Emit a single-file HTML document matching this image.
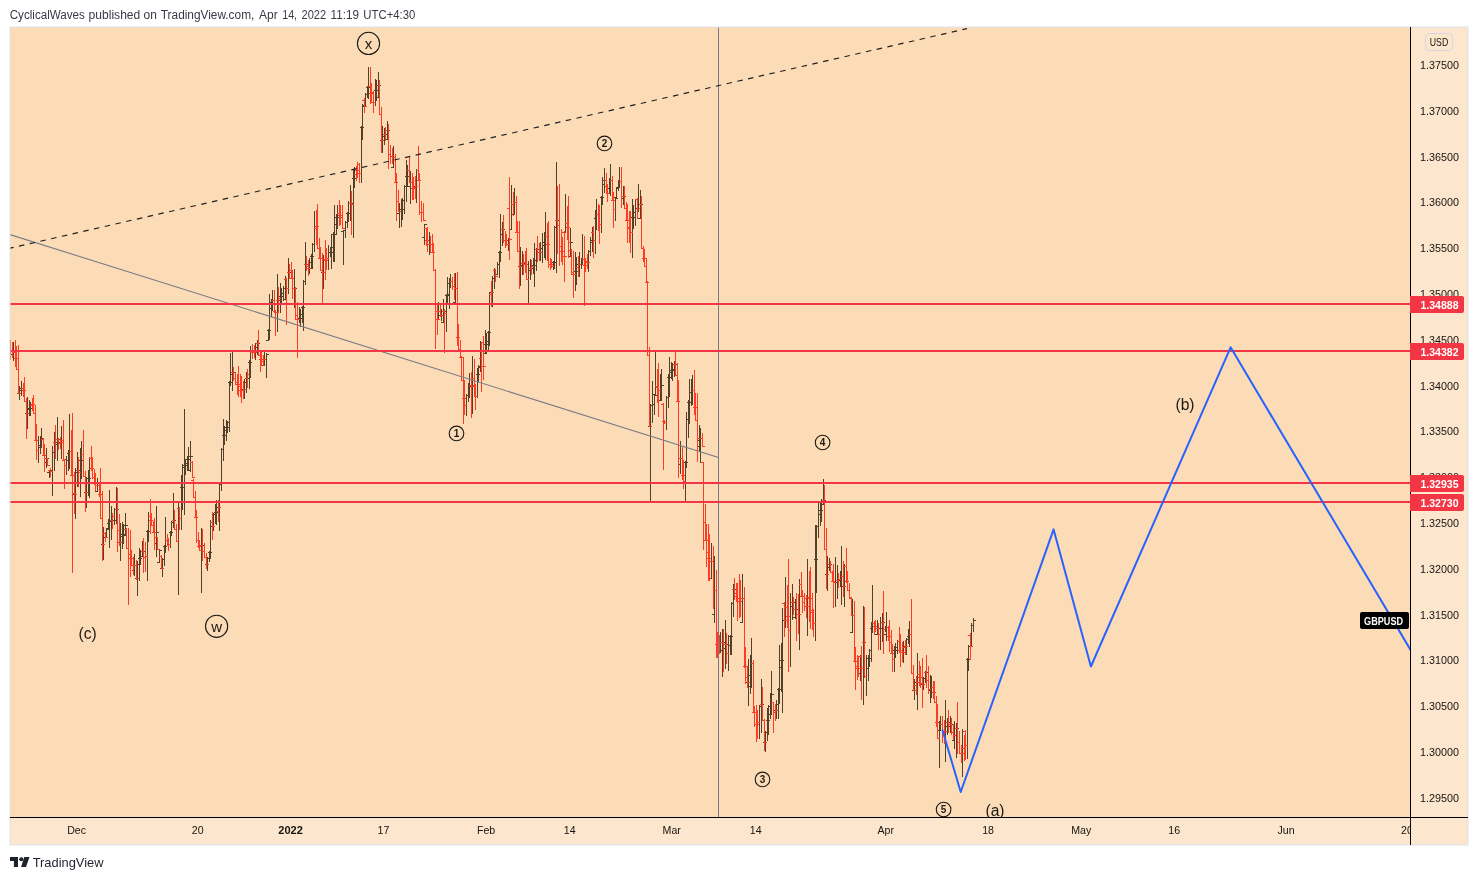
<!DOCTYPE html>
<html lang="en"><head><meta charset="utf-8"><title>GBPUSD chart by CyclicalWaves - TradingView</title>
<style>
html,body{margin:0;padding:0;background:#fff;}
body{width:1478px;height:880px;position:relative;overflow:hidden;font-family:"Liberation Sans",sans-serif;}
svg text{font-family:"Liberation Sans",sans-serif;}
</style></head><body>
<svg width="1478" height="880" viewBox="0 0 1478 880" style="position:absolute;left:0;top:0">
<rect x="0" y="0" width="1478" height="880" fill="#fff"/>
<rect x="10" y="27" width="1458" height="818" fill="#FDE6CE"/>
<rect x="10" y="27" width="1400" height="790" fill="#FCDCB6"/>
<defs><clipPath id="cp"><rect x="10" y="27" width="1400" height="790"/></clipPath></defs>
<g clip-path="url(#cp)">
<g shape-rendering="crispEdges">
<path fill="#524128" d="M13 342h1v19h-1zM11 354h2v1h-2zM14 352h2v1h-2zM19 386h1v14h-1zM17 393h2v1h-2zM20 388h2v1h-2zM21 381h1v15h-1zM19 390h2v1h-2zM22 388h2v1h-2zM27 397h1v32h-1zM25 413h2v1h-2zM28 408h2v1h-2zM29 400h1v16h-1zM27 409h2v1h-2zM30 408h2v1h-2zM30 402h1v14h-1zM28 408h2v1h-2zM31 405h2v1h-2zM38 436h1v27h-1zM36 450h2v1h-2zM39 445h2v1h-2zM40 436h1v18h-1zM38 445h2v1h-2zM41 438h2v1h-2zM41 428h1v20h-1zM39 447h2v1h-2zM42 438h2v1h-2zM46 448h1v20h-1zM44 462h2v1h-2zM47 458h2v1h-2zM49 470h1v8h-1zM47 472h2v1h-2zM50 470h2v1h-2zM52 446h1v50h-1zM50 471h2v1h-2zM53 452h2v1h-2zM54 432h1v39h-1zM52 452h2v1h-2zM55 442h2v1h-2zM57 417h1v44h-1zM55 444h2v1h-2zM58 439h2v1h-2zM61 426h1v33h-1zM59 442h2v1h-2zM62 440h2v1h-2zM66 456h1v19h-1zM64 465h2v1h-2zM67 460h2v1h-2zM68 450h1v21h-1zM66 460h2v1h-2zM69 451h2v1h-2zM69 414h1v55h-1zM67 453h2v1h-2zM70 451h2v1h-2zM75 468h1v51h-1zM73 494h2v1h-2zM76 470h2v1h-2zM77 452h1v35h-1zM75 472h2v1h-2zM78 470h2v1h-2zM80 448h1v49h-1zM78 472h2v1h-2zM81 460h2v1h-2zM81 441h1v38h-1zM79 460h2v1h-2zM82 454h2v1h-2zM86 477h1v31h-1zM84 492h2v1h-2zM87 483h2v1h-2zM88 470h1v26h-1zM86 483h2v1h-2zM89 478h2v1h-2zM89 457h1v41h-1zM87 478h2v1h-2zM90 458h2v1h-2zM97 478h1v14h-1zM95 491h2v1h-2zM98 485h2v1h-2zM103 527h1v33h-1zM101 544h2v1h-2zM104 537h2v1h-2zM106 528h1v10h-1zM104 537h2v1h-2zM107 529h2v1h-2zM108 519h1v10h-1zM106 528h2v1h-2zM109 520h2v1h-2zM109 490h1v58h-1zM107 523h2v1h-2zM110 520h2v1h-2zM111 506h1v34h-1zM109 521h2v1h-2zM112 520h2v1h-2zM114 508h1v17h-1zM112 516h2v1h-2zM115 509h2v1h-2zM116 487h1v37h-1zM114 520h2v1h-2zM117 509h2v1h-2zM120 523h1v38h-1zM118 542h2v1h-2zM121 536h2v1h-2zM122 522h1v27h-1zM120 536h2v1h-2zM123 534h2v1h-2zM123 524h1v20h-1zM121 534h2v1h-2zM124 525h2v1h-2zM125 513h1v23h-1zM123 535h2v1h-2zM126 525h2v1h-2zM134 554h1v22h-1zM132 570h2v1h-2zM135 565h2v1h-2zM137 561h1v35h-1zM135 578h2v1h-2zM138 564h2v1h-2zM139 548h1v33h-1zM137 564h2v1h-2zM140 558h2v1h-2zM140 550h1v15h-1zM138 558h2v1h-2zM141 551h2v1h-2zM142 541h1v16h-1zM140 556h2v1h-2zM143 551h2v1h-2zM147 530h1v51h-1zM145 556h2v1h-2zM148 531h2v1h-2zM148 512h1v30h-1zM146 531h2v1h-2zM149 516h2v1h-2zM156 506h1v51h-1zM154 543h2v1h-2zM157 532h2v1h-2zM159 549h1v14h-1zM157 562h2v1h-2zM160 550h2v1h-2zM162 558h1v19h-1zM160 568h2v1h-2zM163 559h2v1h-2zM164 545h1v21h-1zM162 559h2v1h-2zM165 546h2v1h-2zM165 517h1v36h-1zM163 546h2v1h-2zM166 540h2v1h-2zM170 531h1v17h-1zM168 544h2v1h-2zM171 532h2v1h-2zM171 521h1v15h-1zM169 532h2v1h-2zM172 522h2v1h-2zM173 493h1v35h-1zM171 522h2v1h-2zM174 520h2v1h-2zM178 503h1v92h-1zM176 541h2v1h-2zM179 518h2v1h-2zM181 475h1v55h-1zM179 518h2v1h-2zM182 487h2v1h-2zM182 464h1v46h-1zM180 487h2v1h-2zM183 465h2v1h-2zM184 409h1v106h-1zM182 467h2v1h-2zM185 465h2v1h-2zM185 459h1v16h-1zM183 465h2v1h-2zM186 463h2v1h-2zM187 456h1v15h-1zM185 463h2v1h-2zM188 459h2v1h-2zM188 447h1v24h-1zM186 459h2v1h-2zM189 456h2v1h-2zM190 441h1v31h-1zM188 470h2v1h-2zM191 456h2v1h-2zM201 528h1v65h-1zM199 550h2v1h-2zM202 545h2v1h-2zM207 557h1v14h-1zM205 564h2v1h-2zM208 558h2v1h-2zM209 551h1v11h-1zM207 558h2v1h-2zM210 552h2v1h-2zM210 520h1v39h-1zM208 552h2v1h-2zM211 526h2v1h-2zM213 513h1v18h-1zM211 526h2v1h-2zM214 514h2v1h-2zM215 504h1v20h-1zM213 514h2v1h-2zM216 512h2v1h-2zM216 500h1v25h-1zM214 512h2v1h-2zM217 511h2v1h-2zM219 483h1v48h-1zM217 507h2v1h-2zM220 484h2v1h-2zM221 448h1v43h-1zM219 484h2v1h-2zM222 449h2v1h-2zM223 419h1v42h-1zM221 449h2v1h-2zM224 435h2v1h-2zM224 426h1v19h-1zM222 435h2v1h-2zM225 430h2v1h-2zM226 420h1v21h-1zM224 430h2v1h-2zM227 427h2v1h-2zM227 421h1v12h-1zM225 427h2v1h-2zM228 422h2v1h-2zM229 381h1v51h-1zM227 422h2v1h-2zM230 382h2v1h-2zM230 353h1v33h-1zM228 382h2v1h-2zM231 372h2v1h-2zM232 352h1v39h-1zM230 374h2v1h-2zM233 372h2v1h-2zM244 379h1v20h-1zM242 389h2v1h-2zM245 382h2v1h-2zM246 372h1v21h-1zM244 382h2v1h-2zM247 378h2v1h-2zM249 360h1v29h-1zM247 374h2v1h-2zM250 362h2v1h-2zM250 346h1v32h-1zM248 362h2v1h-2zM251 352h2v1h-2zM255 343h1v17h-1zM253 352h2v1h-2zM256 347h2v1h-2zM257 340h1v15h-1zM255 347h2v1h-2zM258 343h2v1h-2zM264 352h1v14h-1zM262 365h2v1h-2zM265 359h2v1h-2zM266 353h1v25h-1zM264 359h2v1h-2zM267 354h2v1h-2zM268 329h1v12h-1zM266 340h2v1h-2zM269 330h2v1h-2zM269 294h1v46h-1zM267 330h2v1h-2zM270 308h2v1h-2zM271 299h1v18h-1zM269 308h2v1h-2zM272 300h2v1h-2zM272 290h1v21h-1zM270 302h2v1h-2zM273 300h2v1h-2zM277 274h1v58h-1zM275 312h2v1h-2zM278 300h2v1h-2zM280 283h1v30h-1zM278 298h2v1h-2zM281 296h2v1h-2zM281 288h1v16h-1zM279 296h2v1h-2zM282 293h2v1h-2zM283 286h1v15h-1zM281 293h2v1h-2zM284 288h2v1h-2zM285 276h1v24h-1zM283 299h2v1h-2zM286 288h2v1h-2zM288 258h1v36h-1zM286 288h2v1h-2zM289 272h2v1h-2zM294 269h1v39h-1zM292 304h2v1h-2zM295 288h2v1h-2zM299 307h1v16h-1zM297 319h2v1h-2zM300 318h2v1h-2zM300 309h1v18h-1zM298 318h2v1h-2zM301 314h2v1h-2zM302 306h1v17h-1zM300 314h2v1h-2zM303 307h2v1h-2zM303 280h1v51h-1zM301 307h2v1h-2zM304 281h2v1h-2zM305 242h1v43h-1zM303 281h2v1h-2zM306 264h2v1h-2zM309 258h1v16h-1zM307 268h2v1h-2zM310 262h2v1h-2zM311 254h1v15h-1zM309 262h2v1h-2zM312 256h2v1h-2zM312 243h1v26h-1zM310 256h2v1h-2zM313 244h2v1h-2zM314 211h1v41h-1zM312 244h2v1h-2zM315 228h2v1h-2zM323 255h1v34h-1zM321 272h2v1h-2zM324 260h2v1h-2zM328 245h1v25h-1zM326 258h2v1h-2zM329 252h2v1h-2zM330 247h1v10h-1zM328 252h2v1h-2zM331 252h2v1h-2zM331 234h1v35h-1zM329 252h2v1h-2zM332 247h2v1h-2zM333 232h1v30h-1zM331 247h2v1h-2zM334 234h2v1h-2zM334 205h1v57h-1zM332 234h2v1h-2zM335 224h2v1h-2zM336 214h1v21h-1zM334 224h2v1h-2zM337 217h2v1h-2zM337 205h1v24h-1zM335 217h2v1h-2zM338 213h2v1h-2zM343 230h1v35h-1zM341 231h2v1h-2zM344 230h2v1h-2zM345 221h1v17h-1zM343 230h2v1h-2zM346 222h2v1h-2zM347 212h1v16h-1zM345 222h2v1h-2zM348 213h2v1h-2zM348 201h1v21h-1zM346 213h2v1h-2zM349 203h2v1h-2zM350 185h1v36h-1zM348 213h2v1h-2zM351 203h2v1h-2zM353 169h1v69h-1zM351 204h2v1h-2zM354 178h2v1h-2zM354 167h1v21h-1zM352 178h2v1h-2zM355 174h2v1h-2zM361 126h1v57h-1zM359 173h2v1h-2zM362 127h2v1h-2zM362 104h1v36h-1zM360 127h2v1h-2zM363 106h2v1h-2zM365 93h1v13h-1zM363 105h2v1h-2zM366 94h2v1h-2zM367 86h1v12h-1zM365 94h2v1h-2zM368 87h2v1h-2zM368 67h1v32h-1zM366 87h2v1h-2zM369 86h2v1h-2zM375 79h1v27h-1zM373 102h2v1h-2zM376 90h2v1h-2zM376 80h1v21h-1zM374 90h2v1h-2zM377 85h2v1h-2zM378 72h1v26h-1zM376 97h2v1h-2zM379 85h2v1h-2zM382 126h1v27h-1zM380 140h2v1h-2zM383 136h2v1h-2zM384 128h1v17h-1zM382 136h2v1h-2zM385 134h2v1h-2zM387 121h1v19h-1zM385 139h2v1h-2zM388 130h2v1h-2zM393 146h1v22h-1zM391 167h2v1h-2zM394 157h2v1h-2zM399 203h1v25h-1zM397 213h2v1h-2zM400 211h2v1h-2zM401 199h1v28h-1zM399 211h2v1h-2zM402 209h2v1h-2zM402 198h1v22h-1zM400 209h2v1h-2zM403 200h2v1h-2zM404 185h1v29h-1zM402 200h2v1h-2zM405 186h2v1h-2zM406 160h1v42h-1zM404 186h2v1h-2zM407 176h2v1h-2zM407 165h1v22h-1zM405 176h2v1h-2zM408 170h2v1h-2zM410 171h1v33h-1zM408 186h2v1h-2zM411 182h2v1h-2zM416 169h1v34h-1zM414 186h2v1h-2zM417 170h2v1h-2zM424 224h1v21h-1zM422 237h2v1h-2zM425 224h2v1h-2zM429 232h1v23h-1zM427 244h2v1h-2zM430 244h2v1h-2zM438 302h1v18h-1zM436 319h2v1h-2zM439 311h2v1h-2zM441 309h1v12h-1zM439 315h2v1h-2zM442 311h2v1h-2zM443 299h1v24h-1zM441 322h2v1h-2zM444 311h2v1h-2zM446 294h1v38h-1zM444 313h2v1h-2zM447 295h2v1h-2zM447 277h1v27h-1zM445 295h2v1h-2zM448 294h2v1h-2zM449 278h1v31h-1zM447 294h2v1h-2zM450 281h2v1h-2zM450 274h1v14h-1zM448 283h2v1h-2zM451 281h2v1h-2zM455 273h1v30h-1zM453 302h2v1h-2zM456 288h2v1h-2zM466 394h1v22h-1zM464 405h2v1h-2zM467 395h2v1h-2zM468 383h1v19h-1zM466 395h2v1h-2zM469 386h2v1h-2zM469 373h1v25h-1zM467 395h2v1h-2zM470 386h2v1h-2zM472 356h1v58h-1zM470 386h2v1h-2zM473 378h2v1h-2zM477 368h1v30h-1zM475 396h2v1h-2zM478 374h2v1h-2zM478 365h1v17h-1zM476 374h2v1h-2zM479 366h2v1h-2zM480 341h1v31h-1zM478 367h2v1h-2zM481 366h2v1h-2zM485 330h1v24h-1zM483 353h2v1h-2zM486 344h2v1h-2zM486 333h1v21h-1zM484 344h2v1h-2zM487 341h2v1h-2zM488 331h1v20h-1zM486 341h2v1h-2zM489 332h2v1h-2zM489 292h1v54h-1zM487 332h2v1h-2zM490 294h2v1h-2zM492 276h1v31h-1zM490 292h2v1h-2zM493 278h2v1h-2zM494 268h1v21h-1zM492 278h2v1h-2zM495 276h2v1h-2zM497 262h1v13h-1zM495 274h2v1h-2zM498 264h2v1h-2zM499 251h1v27h-1zM497 264h2v1h-2zM500 252h2v1h-2zM500 214h1v48h-1zM498 252h2v1h-2zM501 234h2v1h-2zM502 222h1v24h-1zM500 234h2v1h-2zM503 229h2v1h-2zM508 238h1v13h-1zM506 244h2v1h-2zM509 239h2v1h-2zM511 185h1v45h-1zM509 229h2v1h-2zM512 204h2v1h-2zM514 188h1v27h-1zM512 214h2v1h-2zM515 202h2v1h-2zM520 247h1v39h-1zM518 266h2v1h-2zM521 263h2v1h-2zM522 251h1v24h-1zM520 265h2v1h-2zM523 263h2v1h-2zM528 261h1v42h-1zM526 279h2v1h-2zM529 270h2v1h-2zM530 259h1v21h-1zM528 270h2v1h-2zM531 268h2v1h-2zM533 258h1v16h-1zM531 266h2v1h-2zM534 265h2v1h-2zM534 243h1v44h-1zM532 265h2v1h-2zM535 260h2v1h-2zM536 248h1v23h-1zM534 260h2v1h-2zM537 249h2v1h-2zM540 242h1v19h-1zM538 252h2v1h-2zM541 248h2v1h-2zM542 233h1v30h-1zM540 248h2v1h-2zM543 245h2v1h-2zM544 232h1v26h-1zM542 245h2v1h-2zM545 236h2v1h-2zM545 212h1v48h-1zM543 242h2v1h-2zM546 236h2v1h-2zM553 261h1v9h-1zM551 266h2v1h-2zM554 262h2v1h-2zM554 226h1v43h-1zM552 262h2v1h-2zM555 227h2v1h-2zM556 162h1v111h-1zM554 227h2v1h-2zM557 220h2v1h-2zM565 194h1v39h-1zM563 232h2v1h-2zM566 223h2v1h-2zM570 228h1v29h-1zM568 256h2v1h-2zM571 242h2v1h-2zM575 252h1v39h-1zM573 274h2v1h-2zM576 271h2v1h-2zM576 257h1v28h-1zM574 271h2v1h-2zM577 267h2v1h-2zM579 252h1v25h-1zM577 264h2v1h-2zM580 264h2v1h-2zM581 258h1v11h-1zM579 264h2v1h-2zM582 259h2v1h-2zM582 234h1v31h-1zM580 264h2v1h-2zM583 259h2v1h-2zM588 250h1v22h-1zM586 262h2v1h-2zM589 251h2v1h-2zM590 237h1v19h-1zM588 251h2v1h-2zM591 240h2v1h-2zM592 227h1v25h-1zM590 242h2v1h-2zM593 240h2v1h-2zM595 210h1v44h-1zM593 240h2v1h-2zM596 214h2v1h-2zM596 199h1v31h-1zM594 218h2v1h-2zM597 214h2v1h-2zM601 196h1v37h-1zM599 224h2v1h-2zM602 197h2v1h-2zM602 177h1v28h-1zM600 197h2v1h-2zM603 180h2v1h-2zM604 168h1v25h-1zM602 184h2v1h-2zM605 180h2v1h-2zM609 178h1v16h-1zM607 193h2v1h-2zM610 180h2v1h-2zM610 164h1v32h-1zM608 188h2v1h-2zM611 180h2v1h-2zM615 197h1v24h-1zM613 209h2v1h-2zM616 198h2v1h-2zM616 187h1v11h-1zM614 197h2v1h-2zM617 188h2v1h-2zM618 180h1v11h-1zM616 188h2v1h-2zM619 181h2v1h-2zM619 167h1v21h-1zM617 187h2v1h-2zM620 181h2v1h-2zM623 186h1v19h-1zM621 198h2v1h-2zM624 196h2v1h-2zM632 199h1v59h-1zM630 232h2v1h-2zM633 217h2v1h-2zM633 205h1v24h-1zM631 217h2v1h-2zM634 212h2v1h-2zM635 199h1v27h-1zM633 212h2v1h-2zM636 208h2v1h-2zM638 184h1v28h-1zM636 208h2v1h-2zM639 204h2v1h-2zM640 190h1v29h-1zM638 218h2v1h-2zM641 204h2v1h-2zM650 404h1v97h-1zM648 426h2v1h-2zM651 405h2v1h-2zM652 381h1v42h-1zM650 405h2v1h-2zM653 404h2v1h-2zM654 394h1v21h-1zM652 404h2v1h-2zM655 395h2v1h-2zM655 351h1v44h-1zM653 394h2v1h-2zM656 386h2v1h-2zM660 374h1v27h-1zM658 390h2v1h-2zM661 385h2v1h-2zM661 369h1v32h-1zM659 400h2v1h-2zM662 385h2v1h-2zM666 396h1v34h-1zM664 422h2v1h-2zM667 397h2v1h-2zM668 374h1v34h-1zM666 397h2v1h-2zM669 377h2v1h-2zM669 357h1v40h-1zM667 377h2v1h-2zM670 370h2v1h-2zM671 362h1v17h-1zM669 372h2v1h-2zM672 370h2v1h-2zM672 363h1v18h-1zM670 370h2v1h-2zM673 369h2v1h-2zM674 361h1v16h-1zM672 369h2v1h-2zM675 364h2v1h-2zM680 441h1v33h-1zM678 464h2v1h-2zM681 458h2v1h-2zM685 461h1v40h-1zM683 481h2v1h-2zM686 462h2v1h-2zM686 412h1v56h-1zM684 462h2v1h-2zM687 419h2v1h-2zM688 400h1v38h-1zM686 419h2v1h-2zM689 402h2v1h-2zM689 379h1v45h-1zM687 402h2v1h-2zM690 392h2v1h-2zM691 379h1v27h-1zM689 392h2v1h-2zM692 390h2v1h-2zM692 375h1v30h-1zM690 392h2v1h-2zM693 390h2v1h-2zM699 425h1v27h-1zM697 446h2v1h-2zM700 438h2v1h-2zM700 428h1v35h-1zM698 440h2v1h-2zM701 438h2v1h-2zM711 543h1v36h-1zM709 578h2v1h-2zM712 561h2v1h-2zM714 556h1v67h-1zM712 614h2v1h-2zM715 590h2v1h-2zM720 632h1v21h-1zM718 652h2v1h-2zM721 642h2v1h-2zM722 629h1v48h-1zM720 650h2v1h-2zM723 642h2v1h-2zM725 620h1v49h-1zM723 648h2v1h-2zM726 644h2v1h-2zM728 635h1v36h-1zM726 653h2v1h-2zM729 645h2v1h-2zM730 635h1v20h-1zM728 645h2v1h-2zM731 636h2v1h-2zM731 602h1v53h-1zM729 636h2v1h-2zM732 603h2v1h-2zM733 584h1v33h-1zM731 603h2v1h-2zM734 589h2v1h-2zM742 574h1v49h-1zM740 622h2v1h-2zM743 598h2v1h-2zM748 659h1v47h-1zM746 682h2v1h-2zM749 675h2v1h-2zM750 655h1v39h-1zM748 675h2v1h-2zM751 663h2v1h-2zM751 638h1v50h-1zM749 686h2v1h-2zM752 663h2v1h-2zM759 705h1v34h-1zM757 722h2v1h-2zM760 706h2v1h-2zM761 679h1v54h-1zM759 706h2v1h-2zM762 704h2v1h-2zM765 731h1v21h-1zM763 742h2v1h-2zM766 732h2v1h-2zM767 708h1v33h-1zM765 732h2v1h-2zM768 720h2v1h-2zM768 705h1v30h-1zM766 720h2v1h-2zM769 706h2v1h-2zM770 693h1v26h-1zM768 706h2v1h-2zM771 694h2v1h-2zM771 671h1v44h-1zM769 714h2v1h-2zM772 694h2v1h-2zM776 700h1v19h-1zM774 710h2v1h-2zM777 704h2v1h-2zM778 688h1v31h-1zM776 704h2v1h-2zM779 689h2v1h-2zM779 645h1v59h-1zM777 689h2v1h-2zM780 667h2v1h-2zM781 643h1v49h-1zM779 667h2v1h-2zM782 660h2v1h-2zM782 608h1v105h-1zM780 660h2v1h-2zM783 620h2v1h-2zM785 577h1v51h-1zM783 620h2v1h-2zM786 607h2v1h-2zM790 593h1v74h-1zM788 630h2v1h-2zM791 602h2v1h-2zM792 584h1v36h-1zM790 606h2v1h-2zM793 602h2v1h-2zM795 599h1v20h-1zM793 617h2v1h-2zM796 609h2v1h-2zM799 579h1v71h-1zM797 614h2v1h-2zM800 584h2v1h-2zM807 559h1v77h-1zM805 606h2v1h-2zM808 597h2v1h-2zM815 525h1v116h-1zM813 623h2v1h-2zM816 559h2v1h-2zM816 525h1v68h-1zM814 559h2v1h-2zM817 526h2v1h-2zM818 503h1v35h-1zM816 526h2v1h-2zM819 514h2v1h-2zM820 501h1v25h-1zM818 514h2v1h-2zM821 510h2v1h-2zM821 499h1v23h-1zM819 510h2v1h-2zM822 500h2v1h-2zM823 479h1v26h-1zM821 504h2v1h-2zM824 500h2v1h-2zM827 556h1v35h-1zM825 574h2v1h-2zM828 564h2v1h-2zM829 558h1v13h-1zM827 567h2v1h-2zM830 564h2v1h-2zM835 557h1v50h-1zM833 582h2v1h-2zM836 582h2v1h-2zM837 565h1v34h-1zM835 582h2v1h-2zM838 580h2v1h-2zM840 571h1v16h-1zM838 579h2v1h-2zM841 576h2v1h-2zM841 546h1v59h-1zM839 579h2v1h-2zM842 576h2v1h-2zM844 564h1v43h-1zM842 586h2v1h-2zM845 566h2v1h-2zM852 599h1v34h-1zM850 632h2v1h-2zM853 615h2v1h-2zM860 655h1v26h-1zM858 673h2v1h-2zM861 668h2v1h-2zM863 606h1v99h-1zM861 668h2v1h-2zM864 642h2v1h-2zM866 655h1v41h-1zM864 676h2v1h-2zM867 668h2v1h-2zM868 655h1v26h-1zM866 668h2v1h-2zM869 658h2v1h-2zM869 649h1v18h-1zM867 658h2v1h-2zM870 650h2v1h-2zM871 622h1v40h-1zM869 650h2v1h-2zM872 623h2v1h-2zM872 585h1v48h-1zM870 628h2v1h-2zM873 623h2v1h-2zM877 620h1v15h-1zM875 634h2v1h-2zM878 628h2v1h-2zM880 617h1v33h-1zM878 634h2v1h-2zM881 628h2v1h-2zM882 613h1v29h-1zM880 628h2v1h-2zM883 622h2v1h-2zM885 626h1v6h-1zM883 629h2v1h-2zM886 627h2v1h-2zM886 612h1v29h-1zM884 634h2v1h-2zM887 627h2v1h-2zM894 646h1v26h-1zM892 659h2v1h-2zM895 650h2v1h-2zM895 643h1v15h-1zM893 650h2v1h-2zM896 647h2v1h-2zM897 640h1v14h-1zM895 647h2v1h-2zM898 641h2v1h-2zM903 641h1v22h-1zM901 652h2v1h-2zM904 647h2v1h-2zM906 638h1v17h-1zM904 646h2v1h-2zM907 639h2v1h-2zM908 629h1v15h-1zM906 639h2v1h-2zM909 634h2v1h-2zM909 621h1v26h-1zM907 636h2v1h-2zM910 634h2v1h-2zM914 679h1v21h-1zM912 690h2v1h-2zM915 685h2v1h-2zM917 653h1v57h-1zM915 682h2v1h-2zM918 674h2v1h-2zM923 677h1v13h-1zM921 684h2v1h-2zM924 678h2v1h-2zM925 671h1v12h-1zM923 678h2v1h-2zM926 672h2v1h-2zM930 675h1v28h-1zM928 689h2v1h-2zM931 687h2v1h-2zM931 676h1v22h-1zM929 690h2v1h-2zM932 687h2v1h-2zM939 721h1v47h-1zM937 738h2v1h-2zM940 724h2v1h-2zM940 716h1v15h-1zM938 730h2v1h-2zM941 724h2v1h-2zM945 700h1v62h-1zM943 731h2v1h-2zM946 726h2v1h-2zM947 718h1v17h-1zM945 726h2v1h-2zM948 722h2v1h-2zM950 716h1v17h-1zM948 726h2v1h-2zM951 724h2v1h-2zM954 721h1v28h-1zM952 740h2v1h-2zM955 735h2v1h-2zM956 723h1v35h-1zM954 735h2v1h-2zM957 728h2v1h-2zM962 729h1v48h-1zM960 753h2v1h-2zM963 748h2v1h-2zM967 658h1v101h-1zM965 745h2v1h-2zM968 659h2v1h-2zM968 645h1v26h-1zM966 659h2v1h-2zM969 646h2v1h-2zM971 623h1v24h-1zM969 646h2v1h-2zM972 625h2v1h-2zM973 618h1v14h-1zM971 625h2v1h-2zM974 620h2v1h-2z"/>
<path fill="#FF3B24" d="M10 340h1v20h-1zM8 345h2v1h-2zM11 350h2v1h-2zM12 342h1v16h-1zM10 350h2v1h-2zM13 352h2v1h-2zM15 340h1v27h-1zM13 352h2v1h-2zM16 358h2v1h-2zM16 346h1v24h-1zM14 358h2v1h-2zM17 369h2v1h-2zM18 345h1v49h-1zM16 369h2v1h-2zM19 393h2v1h-2zM23 383h1v14h-1zM21 388h2v1h-2zM24 390h2v1h-2zM24 377h1v25h-1zM22 390h2v1h-2zM25 401h2v1h-2zM26 398h1v41h-1zM24 401h2v1h-2zM27 413h2v1h-2zM32 398h1v13h-1zM30 405h2v1h-2zM33 404h2v1h-2zM33 395h1v19h-1zM31 404h2v1h-2zM34 413h2v1h-2zM35 405h1v36h-1zM33 413h2v1h-2zM36 440h2v1h-2zM36 424h1v36h-1zM34 440h2v1h-2zM37 450h2v1h-2zM43 438h1v18h-1zM41 439h2v1h-2zM44 455h2v1h-2zM44 444h1v28h-1zM42 455h2v1h-2zM45 458h2v1h-2zM47 458h1v8h-1zM45 458h2v1h-2zM48 465h2v1h-2zM50 468h1v9h-1zM48 470h2v1h-2zM51 471h2v1h-2zM55 425h1v34h-1zM53 442h2v1h-2zM56 439h2v1h-2zM58 438h1v12h-1zM56 439h2v1h-2zM59 443h2v1h-2zM60 437h1v12h-1zM58 443h2v1h-2zM61 442h2v1h-2zM63 420h1v40h-1zM61 440h2v1h-2zM64 459h2v1h-2zM64 459h1v30h-1zM62 460h2v1h-2zM65 465h2v1h-2zM71 430h1v46h-1zM69 451h2v1h-2zM72 475h2v1h-2zM72 413h1v160h-1zM70 475h2v1h-2zM73 493h2v1h-2zM74 472h1v42h-1zM72 493h2v1h-2zM75 494h2v1h-2zM78 457h1v30h-1zM76 470h2v1h-2zM79 472h2v1h-2zM83 430h1v47h-1zM81 454h2v1h-2zM84 476h2v1h-2zM85 471h1v41h-1zM83 476h2v1h-2zM86 492h2v1h-2zM91 446h1v25h-1zM89 458h2v1h-2zM92 468h2v1h-2zM92 457h1v22h-1zM90 468h2v1h-2zM93 477h2v1h-2zM94 469h1v16h-1zM92 477h2v1h-2zM95 482h2v1h-2zM95 473h1v18h-1zM93 482h2v1h-2zM96 485h2v1h-2zM99 484h1v13h-1zM97 485h2v1h-2zM100 494h2v1h-2zM100 468h1v51h-1zM98 494h2v1h-2zM101 518h2v1h-2zM102 491h1v70h-1zM100 518h2v1h-2zM103 544h2v1h-2zM105 532h1v10h-1zM103 533h2v1h-2zM106 537h2v1h-2zM112 513h1v16h-1zM110 520h2v1h-2zM113 516h2v1h-2zM117 488h1v64h-1zM115 509h2v1h-2zM118 530h2v1h-2zM119 514h1v32h-1zM117 530h2v1h-2zM120 542h2v1h-2zM126 528h1v21h-1zM124 529h2v1h-2zM127 548h2v1h-2zM128 528h1v77h-1zM126 548h2v1h-2zM129 554h2v1h-2zM130 530h1v47h-1zM128 554h2v1h-2zM131 558h2v1h-2zM131 550h1v16h-1zM129 558h2v1h-2zM132 565h2v1h-2zM133 557h1v18h-1zM131 565h2v1h-2zM134 565h2v1h-2zM136 560h1v20h-1zM134 565h2v1h-2zM137 578h2v1h-2zM143 538h1v35h-1zM141 551h2v1h-2zM144 557h2v1h-2zM145 542h1v30h-1zM143 557h2v1h-2zM146 556h2v1h-2zM150 499h1v35h-1zM148 516h2v1h-2zM151 520h2v1h-2zM151 513h1v13h-1zM149 520h2v1h-2zM152 525h2v1h-2zM153 521h1v12h-1zM151 525h2v1h-2zM154 532h2v1h-2zM154 518h1v32h-1zM152 532h2v1h-2zM155 532h2v1h-2zM157 537h1v13h-1zM155 537h2v1h-2zM158 549h2v1h-2zM161 555h1v14h-1zM159 556h2v1h-2zM162 568h2v1h-2zM167 534h1v12h-1zM165 540h2v1h-2zM168 544h2v1h-2zM168 538h1v13h-1zM166 540h2v1h-2zM169 544h2v1h-2zM174 510h1v20h-1zM172 520h2v1h-2zM175 529h2v1h-2zM176 524h1v18h-1zM174 529h2v1h-2zM177 541h2v1h-2zM179 507h1v23h-1zM177 508h2v1h-2zM180 518h2v1h-2zM192 461h1v17h-1zM190 462h2v1h-2zM193 477h2v1h-2zM193 479h1v19h-1zM191 480h2v1h-2zM194 497h2v1h-2zM195 491h1v27h-1zM193 497h2v1h-2zM196 517h2v1h-2zM196 510h1v33h-1zM194 517h2v1h-2zM197 540h2v1h-2zM198 532h1v16h-1zM196 540h2v1h-2zM199 546h2v1h-2zM199 540h1v11h-1zM197 546h2v1h-2zM200 550h2v1h-2zM202 529h1v32h-1zM200 545h2v1h-2zM203 551h2v1h-2zM204 543h1v15h-1zM202 551h2v1h-2zM205 557h2v1h-2zM206 553h1v16h-1zM204 557h2v1h-2zM207 564h2v1h-2zM212 512h1v28h-1zM210 522h2v1h-2zM213 526h2v1h-2zM218 500h1v22h-1zM216 511h2v1h-2zM219 507h2v1h-2zM233 367h1v14h-1zM231 372h2v1h-2zM234 378h2v1h-2zM235 372h1v13h-1zM233 378h2v1h-2zM236 384h2v1h-2zM237 374h1v21h-1zM235 382h2v1h-2zM238 384h2v1h-2zM238 366h1v31h-1zM236 384h2v1h-2zM239 386h2v1h-2zM240 374h1v23h-1zM238 386h2v1h-2zM241 390h2v1h-2zM241 376h1v27h-1zM239 390h2v1h-2zM242 390h2v1h-2zM243 381h1v18h-1zM241 390h2v1h-2zM244 389h2v1h-2zM247 369h1v19h-1zM245 378h2v1h-2zM248 374h2v1h-2zM252 344h1v15h-1zM250 352h2v1h-2zM253 352h2v1h-2zM254 345h1v13h-1zM252 352h2v1h-2zM255 352h2v1h-2zM258 330h1v26h-1zM256 343h2v1h-2zM259 355h2v1h-2zM260 351h1v21h-1zM258 355h2v1h-2zM261 359h2v1h-2zM261 352h1v14h-1zM259 359h2v1h-2zM262 361h2v1h-2zM263 355h1v11h-1zM261 361h2v1h-2zM264 359h2v1h-2zM274 290h1v23h-1zM272 300h2v1h-2zM275 312h2v1h-2zM275 310h1v26h-1zM273 311h2v1h-2zM276 312h2v1h-2zM278 287h1v26h-1zM276 300h2v1h-2zM279 298h2v1h-2zM286 278h1v47h-1zM284 279h2v1h-2zM287 288h2v1h-2zM289 264h1v15h-1zM287 272h2v1h-2zM290 270h2v1h-2zM291 262h1v17h-1zM289 270h2v1h-2zM292 278h2v1h-2zM292 270h1v29h-1zM290 278h2v1h-2zM293 288h2v1h-2zM295 287h1v33h-1zM293 288h2v1h-2zM296 319h2v1h-2zM297 302h1v56h-1zM295 315h2v1h-2zM298 319h2v1h-2zM306 256h1v15h-1zM304 264h2v1h-2zM307 268h2v1h-2zM308 260h1v16h-1zM306 266h2v1h-2zM309 268h2v1h-2zM316 210h1v35h-1zM314 228h2v1h-2zM317 226h2v1h-2zM317 204h1v45h-1zM315 226h2v1h-2zM318 248h2v1h-2zM319 238h1v21h-1zM317 248h2v1h-2zM320 258h2v1h-2zM320 247h1v24h-1zM318 258h2v1h-2zM321 270h2v1h-2zM322 253h1v50h-1zM320 270h2v1h-2zM323 272h2v1h-2zM325 240h1v40h-1zM323 259h2v1h-2zM326 260h2v1h-2zM326 248h1v22h-1zM324 260h2v1h-2zM327 258h2v1h-2zM339 200h1v26h-1zM337 213h2v1h-2zM340 215h2v1h-2zM340 205h1v20h-1zM338 215h2v1h-2zM341 217h2v1h-2zM342 205h1v24h-1zM340 217h2v1h-2zM343 228h2v1h-2zM351 191h1v44h-1zM349 203h2v1h-2zM352 204h2v1h-2zM356 166h1v15h-1zM354 174h2v1h-2zM357 170h2v1h-2zM357 162h1v16h-1zM355 170h2v1h-2zM358 173h2v1h-2zM359 163h1v20h-1zM357 164h2v1h-2zM360 173h2v1h-2zM364 98h1v15h-1zM362 100h2v1h-2zM365 106h2v1h-2zM370 67h1v37h-1zM368 86h2v1h-2zM371 93h2v1h-2zM371 83h1v20h-1zM369 93h2v1h-2zM372 102h2v1h-2zM373 91h1v22h-1zM371 92h2v1h-2zM374 102h2v1h-2zM379 80h1v35h-1zM377 85h2v1h-2zM380 114h2v1h-2zM381 107h1v46h-1zM379 114h2v1h-2zM382 140h2v1h-2zM385 127h1v14h-1zM383 134h2v1h-2zM386 130h2v1h-2zM388 124h1v45h-1zM386 130h2v1h-2zM389 154h2v1h-2zM390 145h1v19h-1zM388 154h2v1h-2zM391 156h2v1h-2zM392 148h1v16h-1zM390 156h2v1h-2zM393 157h2v1h-2zM395 154h1v29h-1zM393 157h2v1h-2zM396 182h2v1h-2zM396 173h1v48h-1zM394 182h2v1h-2zM397 201h2v1h-2zM398 190h1v22h-1zM396 201h2v1h-2zM399 211h2v1h-2zM409 157h1v26h-1zM407 170h2v1h-2zM410 182h2v1h-2zM412 173h1v27h-1zM410 182h2v1h-2zM413 188h2v1h-2zM413 177h1v23h-1zM411 188h2v1h-2zM414 187h2v1h-2zM415 176h1v23h-1zM413 187h2v1h-2zM416 186h2v1h-2zM418 146h1v35h-1zM416 170h2v1h-2zM419 180h2v1h-2zM419 173h1v42h-1zM417 180h2v1h-2zM420 212h2v1h-2zM421 201h1v21h-1zM419 212h2v1h-2zM422 212h2v1h-2zM423 203h1v18h-1zM421 212h2v1h-2zM424 220h2v1h-2zM426 228h1v18h-1zM424 228h2v1h-2zM427 240h2v1h-2zM427 227h1v25h-1zM425 240h2v1h-2zM428 244h2v1h-2zM430 236h1v17h-1zM428 244h2v1h-2zM431 244h2v1h-2zM432 234h1v19h-1zM430 244h2v1h-2zM433 252h2v1h-2zM433 243h1v28h-1zM431 252h2v1h-2zM434 270h2v1h-2zM435 269h1v80h-1zM433 270h2v1h-2zM436 319h2v1h-2zM437 303h1v32h-1zM435 311h2v1h-2zM438 319h2v1h-2zM440 305h1v12h-1zM438 311h2v1h-2zM441 315h2v1h-2zM444 309h1v44h-1zM442 311h2v1h-2zM445 313h2v1h-2zM452 277h1v13h-1zM450 281h2v1h-2zM453 286h2v1h-2zM454 273h1v27h-1zM452 286h2v1h-2zM455 288h2v1h-2zM457 272h1v74h-1zM455 288h2v1h-2zM458 337h2v1h-2zM458 324h1v26h-1zM456 337h2v1h-2zM459 349h2v1h-2zM460 340h1v18h-1zM458 349h2v1h-2zM461 357h2v1h-2zM461 356h1v25h-1zM459 357h2v1h-2zM462 380h2v1h-2zM463 357h1v67h-1zM461 380h2v1h-2zM464 398h2v1h-2zM464 380h1v35h-1zM462 398h2v1h-2zM465 405h2v1h-2zM471 372h1v46h-1zM469 385h2v1h-2zM472 386h2v1h-2zM474 359h1v38h-1zM472 378h2v1h-2zM475 396h2v1h-2zM475 384h1v26h-1zM473 385h2v1h-2zM476 396h2v1h-2zM481 342h1v50h-1zM479 358h2v1h-2zM482 366h2v1h-2zM483 336h1v44h-1zM481 342h2v1h-2zM484 366h2v1h-2zM491 281h1v26h-1zM489 294h2v1h-2zM492 292h2v1h-2zM495 269h1v13h-1zM493 270h2v1h-2zM496 276h2v1h-2zM503 215h1v28h-1zM501 229h2v1h-2zM504 240h2v1h-2zM505 231h1v17h-1zM503 240h2v1h-2zM506 240h2v1h-2zM506 234h1v12h-1zM504 240h2v1h-2zM507 244h2v1h-2zM509 177h1v83h-1zM507 208h2v1h-2zM510 239h2v1h-2zM513 192h1v24h-1zM511 204h2v1h-2zM514 202h2v1h-2zM516 196h1v37h-1zM514 202h2v1h-2zM517 232h2v1h-2zM517 221h1v31h-1zM515 232h2v1h-2zM518 251h2v1h-2zM519 221h1v68h-1zM517 251h2v1h-2zM520 266h2v1h-2zM523 254h1v21h-1zM521 263h2v1h-2zM524 262h2v1h-2zM525 251h1v22h-1zM523 262h2v1h-2zM526 264h2v1h-2zM526 248h1v32h-1zM524 264h2v1h-2zM527 279h2v1h-2zM531 260h1v15h-1zM529 268h2v1h-2zM532 266h2v1h-2zM537 236h1v26h-1zM535 249h2v1h-2zM538 252h2v1h-2zM539 243h1v18h-1zM537 252h2v1h-2zM540 252h2v1h-2zM547 223h1v38h-1zM545 236h2v1h-2zM548 244h2v1h-2zM548 221h1v47h-1zM546 244h2v1h-2zM549 264h2v1h-2zM550 258h1v12h-1zM548 264h2v1h-2zM551 264h2v1h-2zM551 259h1v9h-1zM549 264h2v1h-2zM552 266h2v1h-2zM557 186h1v68h-1zM555 220h2v1h-2zM558 225h2v1h-2zM559 184h1v82h-1zM557 225h2v1h-2zM560 246h2v1h-2zM561 229h1v33h-1zM559 246h2v1h-2zM562 251h2v1h-2zM562 237h1v28h-1zM560 251h2v1h-2zM563 256h2v1h-2zM564 231h1v51h-1zM562 232h2v1h-2zM565 256h2v1h-2zM567 206h1v34h-1zM565 223h2v1h-2zM568 227h2v1h-2zM568 196h1v62h-1zM566 227h2v1h-2zM569 242h2v1h-2zM571 249h1v26h-1zM569 250h2v1h-2zM572 274h2v1h-2zM573 251h1v47h-1zM571 272h2v1h-2zM574 274h2v1h-2zM578 256h1v21h-1zM576 267h2v1h-2zM579 264h2v1h-2zM584 236h1v70h-1zM582 259h2v1h-2zM585 265h2v1h-2zM585 258h1v14h-1zM583 265h2v1h-2zM586 262h2v1h-2zM587 254h1v15h-1zM585 261h2v1h-2zM588 262h2v1h-2zM593 226h1v32h-1zM591 232h2v1h-2zM594 240h2v1h-2zM598 204h1v27h-1zM596 214h2v1h-2zM599 224h2v1h-2zM599 205h1v39h-1zM597 214h2v1h-2zM600 224h2v1h-2zM606 173h1v21h-1zM604 180h2v1h-2zM607 193h2v1h-2zM607 184h1v18h-1zM605 186h2v1h-2zM608 193h2v1h-2zM612 176h1v25h-1zM610 180h2v1h-2zM613 200h2v1h-2zM613 192h1v36h-1zM611 200h2v1h-2zM614 209h2v1h-2zM621 167h1v41h-1zM619 181h2v1h-2zM622 196h2v1h-2zM624 186h1v23h-1zM622 196h2v1h-2zM625 208h2v1h-2zM626 202h1v19h-1zM624 208h2v1h-2zM627 220h2v1h-2zM627 204h1v39h-1zM625 220h2v1h-2zM628 227h2v1h-2zM629 211h1v32h-1zM627 227h2v1h-2zM630 232h2v1h-2zM630 211h1v42h-1zM628 228h2v1h-2zM631 232h2v1h-2zM637 198h1v21h-1zM635 199h2v1h-2zM638 208h2v1h-2zM641 196h1v53h-1zM639 204h2v1h-2zM642 248h2v1h-2zM643 246h1v16h-1zM641 248h2v1h-2zM644 258h2v1h-2zM644 249h1v18h-1zM642 258h2v1h-2zM645 266h2v1h-2zM646 258h1v25h-1zM644 266h2v1h-2zM647 282h2v1h-2zM647 281h1v75h-1zM645 282h2v1h-2zM648 355h2v1h-2zM649 347h1v80h-1zM647 355h2v1h-2zM650 426h2v1h-2zM657 369h1v34h-1zM655 386h2v1h-2zM658 390h2v1h-2zM658 363h1v54h-1zM656 387h2v1h-2zM659 390h2v1h-2zM663 403h1v67h-1zM661 404h2v1h-2zM664 422h2v1h-2zM664 420h1v4h-1zM662 421h2v1h-2zM665 422h2v1h-2zM675 352h1v24h-1zM673 364h2v1h-2zM676 375h2v1h-2zM677 363h1v39h-1zM675 375h2v1h-2zM678 401h2v1h-2zM678 380h1v98h-1zM676 401h2v1h-2zM679 458h2v1h-2zM682 447h1v33h-1zM680 458h2v1h-2zM683 475h2v1h-2zM683 460h1v29h-1zM681 475h2v1h-2zM684 481h2v1h-2zM694 370h1v45h-1zM692 390h2v1h-2zM695 407h2v1h-2zM695 393h1v28h-1zM693 407h2v1h-2zM696 420h2v1h-2zM697 393h1v69h-1zM695 420h2v1h-2zM698 438h2v1h-2zM702 433h1v14h-1zM700 438h2v1h-2zM703 446h2v1h-2zM703 462h1v88h-1zM701 462h2v1h-2zM704 522h2v1h-2zM705 504h1v37h-1zM703 522h2v1h-2zM706 540h2v1h-2zM706 524h1v43h-1zM704 540h2v1h-2zM707 552h2v1h-2zM708 524h1v57h-1zM706 552h2v1h-2zM709 558h2v1h-2zM709 534h1v47h-1zM707 558h2v1h-2zM710 561h2v1h-2zM713 546h1v63h-1zM711 561h2v1h-2zM714 590h2v1h-2zM716 570h1v88h-1zM714 590h2v1h-2zM717 645h2v1h-2zM717 632h1v26h-1zM715 644h2v1h-2zM718 645h2v1h-2zM719 635h1v19h-1zM717 645h2v1h-2zM720 642h2v1h-2zM723 629h1v43h-1zM721 642h2v1h-2zM724 644h2v1h-2zM726 633h1v31h-1zM724 644h2v1h-2zM727 653h2v1h-2zM734 578h1v22h-1zM732 589h2v1h-2zM735 593h2v1h-2zM736 583h1v19h-1zM734 593h2v1h-2zM737 601h2v1h-2zM737 583h1v38h-1zM735 596h2v1h-2zM738 601h2v1h-2zM739 574h1v44h-1zM737 598h2v1h-2zM740 601h2v1h-2zM740 580h1v37h-1zM738 601h2v1h-2zM741 598h2v1h-2zM744 587h1v81h-1zM742 598h2v1h-2zM745 666h2v1h-2zM745 647h1v37h-1zM743 666h2v1h-2zM746 677h2v1h-2zM747 666h1v22h-1zM745 677h2v1h-2zM748 682h2v1h-2zM753 660h1v53h-1zM751 663h2v1h-2zM754 712h2v1h-2zM754 706h1v21h-1zM752 712h2v1h-2zM755 724h2v1h-2zM756 705h1v37h-1zM754 724h2v1h-2zM757 724h2v1h-2zM757 710h1v29h-1zM755 724h2v1h-2zM758 722h2v1h-2zM762 687h1v34h-1zM760 704h2v1h-2zM763 720h2v1h-2zM764 719h1v32h-1zM762 720h2v1h-2zM765 742h2v1h-2zM773 702h1v31h-1zM771 702h2v1h-2zM774 712h2v1h-2zM775 704h1v17h-1zM773 712h2v1h-2zM776 710h2v1h-2zM784 602h1v35h-1zM782 603h2v1h-2zM785 620h2v1h-2zM787 585h1v43h-1zM785 607h2v1h-2zM788 616h2v1h-2zM788 559h1v113h-1zM786 616h2v1h-2zM789 630h2v1h-2zM793 597h1v18h-1zM791 602h2v1h-2zM794 609h2v1h-2zM796 593h1v48h-1zM794 609h2v1h-2zM797 614h2v1h-2zM798 594h1v40h-1zM796 614h2v1h-2zM799 614h2v1h-2zM801 572h1v25h-1zM799 584h2v1h-2zM802 596h2v1h-2zM802 590h1v23h-1zM800 596h2v1h-2zM803 602h2v1h-2zM804 593h1v18h-1zM802 602h2v1h-2zM805 606h2v1h-2zM806 595h1v23h-1zM804 598h2v1h-2zM807 606h2v1h-2zM809 571h1v51h-1zM807 597h2v1h-2zM810 598h2v1h-2zM810 567h1v62h-1zM808 598h2v1h-2zM811 612h2v1h-2zM812 593h1v37h-1zM810 612h2v1h-2zM813 623h2v1h-2zM813 609h1v28h-1zM811 610h2v1h-2zM814 623h2v1h-2zM824 485h1v65h-1zM822 500h2v1h-2zM825 549h2v1h-2zM826 528h1v61h-1zM824 549h2v1h-2zM827 574h2v1h-2zM830 561h1v12h-1zM828 564h2v1h-2zM831 572h2v1h-2zM832 571h1v11h-1zM830 572h2v1h-2zM833 581h2v1h-2zM833 564h1v44h-1zM831 581h2v1h-2zM834 582h2v1h-2zM838 573h1v15h-1zM836 580h2v1h-2zM839 579h2v1h-2zM843 561h1v36h-1zM841 576h2v1h-2zM844 586h2v1h-2zM846 548h1v35h-1zM844 566h2v1h-2zM847 581h2v1h-2zM847 571h1v20h-1zM845 581h2v1h-2zM848 590h2v1h-2zM849 583h1v15h-1zM847 590h2v1h-2zM850 597h2v1h-2zM851 598h1v18h-1zM849 598h2v1h-2zM852 615h2v1h-2zM854 601h1v61h-1zM852 615h2v1h-2zM855 661h2v1h-2zM855 647h1v43h-1zM853 661h2v1h-2zM856 668h2v1h-2zM857 655h1v25h-1zM855 666h2v1h-2zM858 668h2v1h-2zM858 656h1v21h-1zM856 668h2v1h-2zM859 668h2v1h-2zM861 646h1v54h-1zM859 656h2v1h-2zM862 668h2v1h-2zM864 607h1v71h-1zM862 642h2v1h-2zM865 676h2v1h-2zM874 621h1v14h-1zM872 623h2v1h-2zM875 626h2v1h-2zM875 620h1v12h-1zM873 626h2v1h-2zM876 628h2v1h-2zM878 623h1v27h-1zM876 628h2v1h-2zM879 634h2v1h-2zM883 591h1v63h-1zM881 622h2v1h-2zM884 629h2v1h-2zM888 626h1v15h-1zM886 627h2v1h-2zM889 636h2v1h-2zM889 620h1v32h-1zM887 636h2v1h-2zM890 642h2v1h-2zM891 630h1v24h-1zM889 642h2v1h-2zM892 653h2v1h-2zM892 644h1v28h-1zM890 653h2v1h-2zM893 659h2v1h-2zM899 627h1v26h-1zM897 641h2v1h-2zM900 650h2v1h-2zM900 634h1v33h-1zM898 650h2v1h-2zM901 652h2v1h-2zM902 642h1v20h-1zM900 652h2v1h-2zM903 652h2v1h-2zM905 640h1v15h-1zM903 647h2v1h-2zM906 646h2v1h-2zM911 599h1v75h-1zM909 634h2v1h-2zM912 673h2v1h-2zM913 665h1v26h-1zM911 673h2v1h-2zM914 690h2v1h-2zM916 676h1v19h-1zM914 685h2v1h-2zM917 682h2v1h-2zM919 661h1v25h-1zM917 674h2v1h-2zM920 677h2v1h-2zM920 666h1v22h-1zM918 677h2v1h-2zM921 683h2v1h-2zM922 658h1v50h-1zM920 683h2v1h-2zM923 684h2v1h-2zM926 655h1v33h-1zM924 672h2v1h-2zM927 680h2v1h-2zM928 666h1v28h-1zM926 680h2v1h-2zM929 689h2v1h-2zM933 681h1v18h-1zM931 687h2v1h-2zM934 692h2v1h-2zM934 681h1v22h-1zM932 692h2v1h-2zM935 702h2v1h-2zM936 696h1v31h-1zM934 702h2v1h-2zM937 722h2v1h-2zM937 704h1v35h-1zM935 722h2v1h-2zM938 738h2v1h-2zM942 716h1v27h-1zM940 724h2v1h-2zM943 732h2v1h-2zM944 720h1v24h-1zM942 732h2v1h-2zM945 731h2v1h-2zM948 710h1v23h-1zM946 722h2v1h-2zM949 724h2v1h-2zM951 718h1v17h-1zM949 724h2v1h-2zM952 732h2v1h-2zM953 724h1v16h-1zM951 732h2v1h-2zM954 735h2v1h-2zM957 702h1v52h-1zM955 728h2v1h-2zM958 742h2v1h-2zM959 731h1v23h-1zM957 742h2v1h-2zM960 753h2v1h-2zM961 745h1v18h-1zM959 753h2v1h-2zM962 753h2v1h-2zM964 735h1v26h-1zM962 748h2v1h-2zM965 745h2v1h-2zM965 730h1v30h-1zM963 731h2v1h-2zM966 745h2v1h-2zM970 633h1v27h-1zM968 635h2v1h-2zM971 646h2v1h-2z"/>
</g>
<rect x="718" y="27" width="1" height="790" fill="#787B86"/>
<line x1="10" y1="234.6" x2="718.5" y2="457.6" stroke="#787B86" stroke-width="1.1"/>
<line x1="10" y1="248.2" x2="967" y2="28.6" stroke="#1f1f1f" stroke-width="1.15" stroke-dasharray="5.5 5.5" stroke-dashoffset="1.8"/>
<rect x="10" y="303" width="1400" height="2" fill="#F23645"/>
<rect x="10" y="350" width="1400" height="2" fill="#F23645"/>
<rect x="10" y="482" width="1400" height="2" fill="#F23645"/>
<rect x="10" y="501" width="1400" height="2" fill="#F23645"/>
<polyline fill="none" stroke="#2962FF" stroke-width="2" stroke-linejoin="round" points="942.3,729.5 960.7,792.0 1053.6,529.4 1090.9,666.5 1230.6,347.3 1416.0,659.1"/>
<circle cx="368.5" cy="43.4" r="11.1" fill="none" stroke="#1c1a17" stroke-width="1.1"/>
<text x="368.5" y="48.8" font-size="15" text-anchor="middle" fill="#1c1a17">x</text>
<circle cx="216.6" cy="626.3" r="11.1" fill="none" stroke="#1c1a17" stroke-width="1.1"/>
<text x="216.6" y="631.7" font-size="15" text-anchor="middle" fill="#1c1a17">w</text>
<circle cx="604.5" cy="143.4" r="7.3" fill="none" stroke="#1c1a17" stroke-width="1.1"/>
<text x="604.5" y="147.0" font-size="10" text-anchor="middle" fill="#1c1a17" font-weight="bold">2</text>
<circle cx="456.5" cy="433.4" r="7.3" fill="none" stroke="#1c1a17" stroke-width="1.1"/>
<text x="456.5" y="437.0" font-size="10" text-anchor="middle" fill="#1c1a17" font-weight="bold">1</text>
<circle cx="822.6" cy="442.5" r="7.3" fill="none" stroke="#1c1a17" stroke-width="1.1"/>
<text x="822.6" y="446.1" font-size="10" text-anchor="middle" fill="#1c1a17" font-weight="bold">4</text>
<circle cx="762.5" cy="779.4" r="7.3" fill="none" stroke="#1c1a17" stroke-width="1.1"/>
<text x="762.5" y="783.0" font-size="10" text-anchor="middle" fill="#1c1a17" font-weight="bold">3</text>
<circle cx="943.6" cy="809.5" r="7.3" fill="none" stroke="#1c1a17" stroke-width="1.1"/>
<text x="943.6" y="813.1" font-size="10" text-anchor="middle" fill="#1c1a17" font-weight="bold">5</text>
<text x="87.7" y="639.0" font-size="15.6" text-anchor="middle" fill="#1c1a17">(c)</text>
<text x="1185.0" y="410.0" font-size="15.6" text-anchor="middle" fill="#1c1a17">(b)</text>
<text x="995.0" y="815.5" font-size="15.6" text-anchor="middle" fill="#1c1a17">(a)</text>
<rect x="1360" y="612" width="49" height="17" rx="2" fill="#000"/>
<text x="1383.6" y="624.6" font-size="11" font-weight="bold" text-anchor="middle" fill="#fff" textLength="39" lengthAdjust="spacingAndGlyphs">GBPUSD</text>
</g>
<rect x="10" y="27" width="1458" height="818" fill="none" stroke="#DFE2EA" stroke-width="1"/>
<rect x="10" y="817" width="1458" height="1" fill="#000"/>
<rect x="1410" y="27" width="1" height="818" fill="#000"/>
<text x="1420" y="69.0" font-size="11" fill="#17130F" textLength="38.9" lengthAdjust="spacingAndGlyphs">1.37500</text>
<text x="1420" y="115.0" font-size="11" fill="#17130F" textLength="38.9" lengthAdjust="spacingAndGlyphs">1.37000</text>
<text x="1420" y="161.0" font-size="11" fill="#17130F" textLength="38.9" lengthAdjust="spacingAndGlyphs">1.36500</text>
<text x="1420" y="206.0" font-size="11" fill="#17130F" textLength="38.9" lengthAdjust="spacingAndGlyphs">1.36000</text>
<text x="1420" y="252.0" font-size="11" fill="#17130F" textLength="38.9" lengthAdjust="spacingAndGlyphs">1.35500</text>
<text x="1420" y="298.0" font-size="11" fill="#17130F" textLength="38.9" lengthAdjust="spacingAndGlyphs">1.35000</text>
<text x="1420" y="344.0" font-size="11" fill="#17130F" textLength="38.9" lengthAdjust="spacingAndGlyphs">1.34500</text>
<text x="1420" y="390.0" font-size="11" fill="#17130F" textLength="38.9" lengthAdjust="spacingAndGlyphs">1.34000</text>
<text x="1420" y="435.0" font-size="11" fill="#17130F" textLength="38.9" lengthAdjust="spacingAndGlyphs">1.33500</text>
<text x="1420" y="481.0" font-size="11" fill="#17130F" textLength="38.9" lengthAdjust="spacingAndGlyphs">1.33000</text>
<text x="1420" y="527.0" font-size="11" fill="#17130F" textLength="38.9" lengthAdjust="spacingAndGlyphs">1.32500</text>
<text x="1420" y="573.0" font-size="11" fill="#17130F" textLength="38.9" lengthAdjust="spacingAndGlyphs">1.32000</text>
<text x="1420" y="619.0" font-size="11" fill="#17130F" textLength="38.9" lengthAdjust="spacingAndGlyphs">1.31500</text>
<text x="1420" y="664.0" font-size="11" fill="#17130F" textLength="38.9" lengthAdjust="spacingAndGlyphs">1.31000</text>
<text x="1420" y="710.0" font-size="11" fill="#17130F" textLength="38.9" lengthAdjust="spacingAndGlyphs">1.30500</text>
<text x="1420" y="756.0" font-size="11" fill="#17130F" textLength="38.9" lengthAdjust="spacingAndGlyphs">1.30000</text>
<text x="1420" y="802.0" font-size="11" fill="#17130F" textLength="38.9" lengthAdjust="spacingAndGlyphs">1.29500</text>
<path d="M1410 296 h52 a2 2 0 0 1 2 2 v13 a2 2 0 0 1 -2 2 h-52 z" fill="#F23645"/>
<text x="1420.5" y="308.6" font-size="11" font-weight="bold" fill="#fff" textLength="38" lengthAdjust="spacingAndGlyphs">1.34888</text>
<path d="M1410 343 h52 a2 2 0 0 1 2 2 v13 a2 2 0 0 1 -2 2 h-52 z" fill="#F23645"/>
<text x="1420.5" y="355.6" font-size="11" font-weight="bold" fill="#fff" textLength="38" lengthAdjust="spacingAndGlyphs">1.34382</text>
<path d="M1410 475 h52 a2 2 0 0 1 2 2 v13 a2 2 0 0 1 -2 2 h-52 z" fill="#F23645"/>
<text x="1420.5" y="487.6" font-size="11" font-weight="bold" fill="#fff" textLength="38" lengthAdjust="spacingAndGlyphs">1.32935</text>
<path d="M1410 494 h52 a2 2 0 0 1 2 2 v13 a2 2 0 0 1 -2 2 h-52 z" fill="#F23645"/>
<text x="1420.5" y="506.6" font-size="11" font-weight="bold" fill="#fff" textLength="38" lengthAdjust="spacingAndGlyphs">1.32730</text>
<rect x="1425.5" y="33.5" width="27" height="17" rx="4" fill="none" stroke="#D5D8E2" stroke-width="1"/>
<text x="1439" y="46" font-size="10.5" text-anchor="middle" fill="#17130F" textLength="18.5" lengthAdjust="spacingAndGlyphs">USD</text>
<defs><clipPath id="ct"><rect x="10" y="818" width="1400" height="27"/></clipPath></defs><g clip-path="url(#ct)">
<text x="76.6" y="834.4" font-size="10.6" text-anchor="middle" fill="#17130F">Dec</text>
<text x="197.7" y="834.4" font-size="10.6" text-anchor="middle" fill="#17130F">20</text>
<text x="290.6" y="834.4" font-size="11" text-anchor="middle" fill="#17130F" font-weight="bold">2022</text>
<text x="383.5" y="834.4" font-size="10.6" text-anchor="middle" fill="#17130F">17</text>
<text x="486.1" y="834.4" font-size="10.6" text-anchor="middle" fill="#17130F">Feb</text>
<text x="569.7" y="834.4" font-size="10.6" text-anchor="middle" fill="#17130F">14</text>
<text x="671.7" y="834.4" font-size="10.6" text-anchor="middle" fill="#17130F">Mar</text>
<text x="755.7" y="834.4" font-size="10.6" text-anchor="middle" fill="#17130F">14</text>
<text x="885.8" y="834.4" font-size="10.6" text-anchor="middle" fill="#17130F">Apr</text>
<text x="988.1" y="834.4" font-size="10.6" text-anchor="middle" fill="#17130F">18</text>
<text x="1081.2" y="834.4" font-size="10.6" text-anchor="middle" fill="#17130F">May</text>
<text x="1174.2" y="834.4" font-size="10.6" text-anchor="middle" fill="#17130F">16</text>
<text x="1286.0" y="834.4" font-size="10.6" text-anchor="middle" fill="#17130F">Jun</text>
<text x="1407.0" y="834.4" font-size="10.6" text-anchor="middle" fill="#17130F">20</text>
</g>
<text y="19" font-size="12" fill="#363A45"><tspan x="9.7" textLength="75.2" lengthAdjust="spacingAndGlyphs">CyclicalWaves</tspan> <tspan x="88.6" textLength="51.7" lengthAdjust="spacingAndGlyphs">published</tspan> <tspan x="143.6" textLength="13.3" lengthAdjust="spacingAndGlyphs">on</tspan> <tspan x="160.8" textLength="93.5" lengthAdjust="spacingAndGlyphs">TradingView.com,</tspan> <tspan x="259.1" textLength="18.7" lengthAdjust="spacingAndGlyphs">Apr</tspan> <tspan x="282.2" textLength="14.9" lengthAdjust="spacingAndGlyphs">14,</tspan> <tspan x="301.5" textLength="24.6" lengthAdjust="spacingAndGlyphs">2022</tspan> <tspan x="330.6" textLength="28.3" lengthAdjust="spacingAndGlyphs">11:19</tspan> <tspan x="363.3" textLength="52.1" lengthAdjust="spacingAndGlyphs">UTC+4:30</tspan></text>
<g fill="#1E222D"><path d="M10 857h8v9.9h-4.1v-5.8H10z"/><circle cx="21.3" cy="859.2" r="2.05"/><path d="M24.3 857h5.2l-3.5 9.9h-4.9z"/></g>
<text x="32.7" y="867" font-size="13" fill="#1E222D" textLength="70.8" lengthAdjust="spacingAndGlyphs">TradingView</text>
</svg>
</body></html>
